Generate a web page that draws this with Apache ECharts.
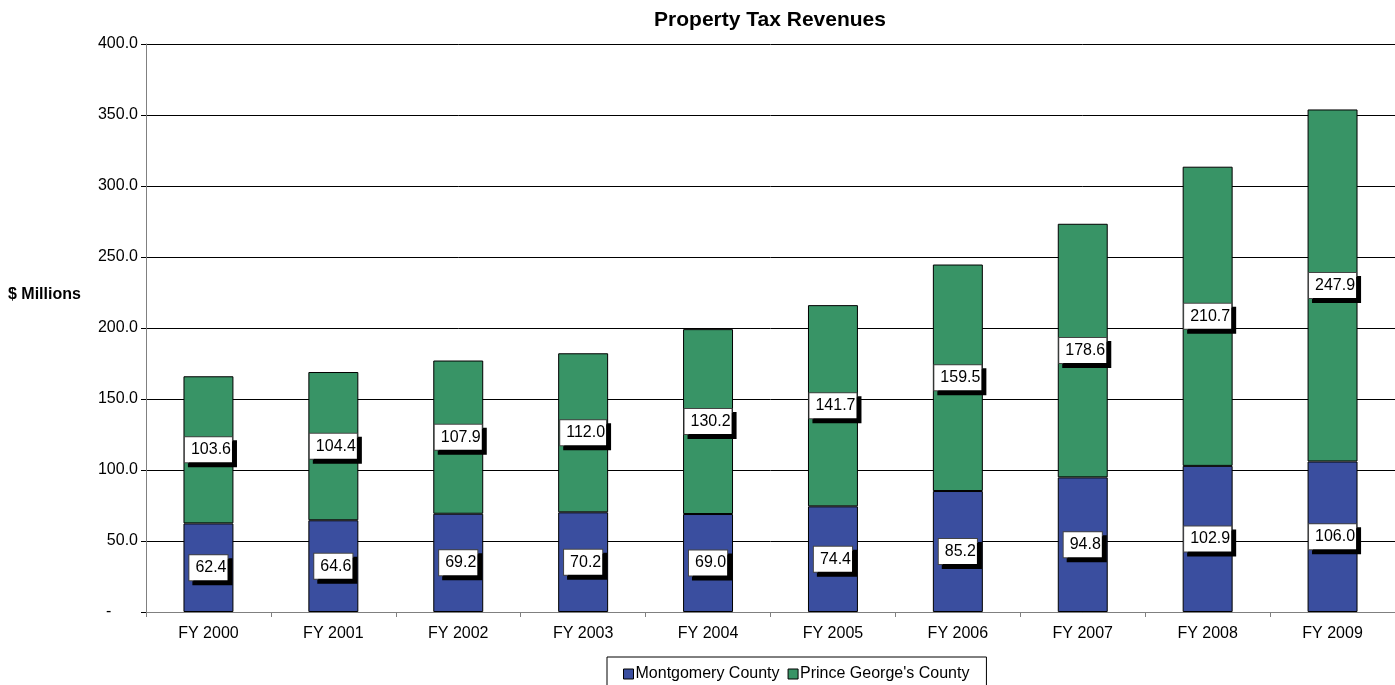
<!DOCTYPE html>
<html>
<head>
<meta charset="utf-8">
<script src="https://cdn.jsdelivr.net/npm/echarts@6/dist/echarts.min.js"></script>
<style>
html,body{margin:0;padding:0;background:#fff;}
#main{width:1395px;height:685px;}
</style>
</head>
<body>
<div id="main"></div>
<script>
// Property Tax Revenues, $ millions
var years = ['FY 2000','FY 2001','FY 2002','FY 2003','FY 2004','FY 2005','FY 2006','FY 2007','FY 2008','FY 2009'];
var montgomery = [62.4, 64.6, 69.2, 70.2, 69.0, 74.4, 85.2, 94.8, 102.9, 106.0];
var princeGeorges = [103.6, 104.4, 107.9, 112.0, 130.2, 141.7, 159.5, 178.6, 210.7, 247.9];
var seriesNames = ['Montgomery County', "Prince George's County"];

var dom = document.getElementById("main");
var myChart = echarts.init(dom);

var font = 'Liberation Sans, Arial, sans-serif';
var boxLabel = {
    show: true,
    position: 'inside',
    formatter: function (p) { return p.value.toFixed(1); },
    color: '#000',
    fontFamily: font,
    fontSize: 16,
    backgroundColor: '#fff',
    borderColor: '#444',
    borderWidth: 1,
    padding: [5, 1, 4, 6],
    shadowColor: '#000',
    shadowOffsetX: 4,
    shadowOffsetY: 4,
    shadowBlur: 0
};

var option = {
    animation: false,
    color: ['#3a4e9f', '#389466'],
    title: {
        text: 'Property Tax Revenues',
        left: 765,
        top: 5,
        textAlign: 'center',
        textStyle: {fontFamily: font, fontSize: 21, fontWeight: 'bold', color: '#000'}
    },
    graphic: [{
        type: 'text',
        left: 8,
        top: 287,
        style: {text: '$ Millions', font: 'bold 16px ' + font, fill: '#000'}
    }],
    legend: {
        data: seriesNames,
        left: 607,
        top: 657,
        padding: [9, 17, 12, 16],
        borderColor: '#000',
        borderWidth: 1,
        itemWidth: 10,
        itemHeight: 10,
        itemGap: 8,
        icon: 'rect',
        itemStyle: {borderColor: '#000', borderWidth: 1},
        textStyle: {fontFamily: font, fontSize: 16, color: '#000', padding: [0, 0, 0, -3]}
    },
    grid: {left: 146, right: -1, top: 44, bottom: 73},
    xAxis: {
        type: 'category',
        data: years,
        axisLine: {lineStyle: {color: '#808080'}},
        axisTick: {show: true, length: 5, lineStyle: {color: '#808080'}},
        axisLabel: {fontFamily: font, fontSize: 16, color: '#000', margin: 14}
    },
    yAxis: {
        type: 'value',
        min: 0,
        max: 400,
        interval: 50,
        axisLine: {show: true, lineStyle: {color: '#808080'}},
        axisTick: {show: true, length: 5, lineStyle: {color: '#000'}},
        axisLabel: {
            fontFamily: font, fontSize: 16, color: '#000', margin: 8,
            formatter: function (v) { return v === 0 ? '-      ' : v.toFixed(1); }
        },
        splitLine: {lineStyle: {color: '#000', width: 1}}
    },
    series: [
        {
            name: seriesNames[0],
            type: 'bar',
            stack: 'total',
            barWidth: '40%',
            data: montgomery,
            itemStyle: {borderColor: '#000', borderWidth: 1},
            label: boxLabel
        },
        {
            name: seriesNames[1],
            type: 'bar',
            stack: 'total',
            barWidth: '40%',
            data: princeGeorges,
            itemStyle: {borderColor: '#000', borderWidth: 1},
            label: boxLabel
        }
    ]
};
if (option && typeof option === "object") {
    myChart.setOption(option);
}
</script>
</body>
</html>
